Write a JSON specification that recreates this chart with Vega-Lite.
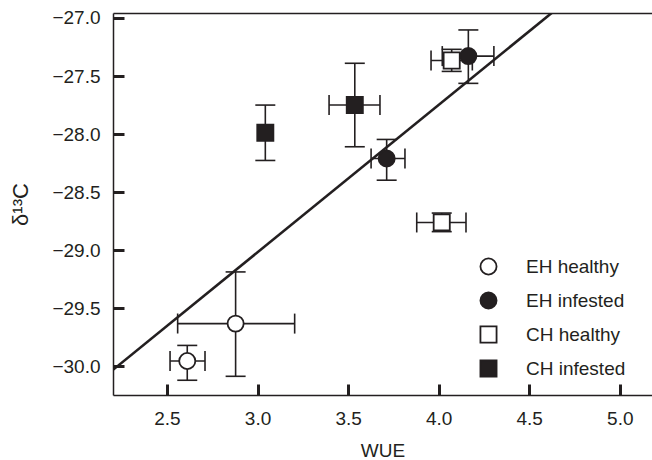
{
  "$schema": "https://vega.github.io/schema/vega-lite/v6.json",
  "autosize": "none",
  "width": 539,
  "height": 382,
  "padding": {"left": 113, "top": 13, "right": 0, "bottom": 65},
  "background": "white",
  "config": {
    "view": {"stroke": null},
    "font": "Liberation Sans",
    "axis": {
      "grid": false,
      "domainColor": "#231f20",
      "domainWidth": 1.5,
      "tickColor": "#231f20",
      "tickWidth": 3,
      "tickSize": -11,
      "tickCap": "butt",
      "labelColor": "#231f20",
      "labelFont": "Liberation Sans",
      "labelFontSize": 19,
      "titleColor": "#231f20",
      "titleFont": "Liberation Sans",
      "titleFontSize": 19,
      "titleFontWeight": "normal"
    },
    "legend": {
      "orient": "none",
      "legendX": 366,
      "legendY": 244,
      "padding": 0,
      "symbolSize": 260,
      "symbolStrokeWidth": 1.8,
      "labelFont": "Liberation Sans",
      "labelFontSize": 19,
      "labelColor": "#231f20",
      "labelOffset": 28,
      "rowPadding": 9
    }
  },
  "datasets": {
    "pts": [
      {"group": "CH healthy", "wue": 4.017, "d13c": -28.761, "xlo": 3.879, "xhi": 4.151, "ylo": -28.84, "yhi": -28.68},
      {"group": "CH healthy", "wue": 4.072, "d13c": -27.366, "xlo": 3.958, "xhi": 4.186, "ylo": -27.46, "yhi": -27.27},
      {"group": "CH infested", "wue": 3.043, "d13c": -27.989, "xlo": null, "xhi": null, "ylo": -28.227, "yhi": -27.75},
      {"group": "CH infested", "wue": 3.537, "d13c": -27.75, "xlo": 3.395, "xhi": 3.676, "ylo": -28.109, "yhi": -27.39},
      {"group": "EH healthy", "wue": 2.612, "d13c": -29.954, "xlo": 2.517, "xhi": 2.71, "ylo": -30.12, "yhi": -29.82},
      {"group": "EH healthy", "wue": 2.879, "d13c": -29.632, "xlo": 2.559, "xhi": 3.205, "ylo": -30.086, "yhi": -29.187},
      {"group": "EH infested", "wue": 3.713, "d13c": -28.21, "xlo": 3.627, "xhi": 3.814, "ylo": -28.397, "yhi": -28.046},
      {"group": "EH infested", "wue": 4.164, "d13c": -27.328, "xlo": 4.02, "xhi": 4.305, "ylo": -27.563, "yhi": -27.103}
    ],
    "fit": [
      {"wue": 2.202, "d13c": -30.03},
      {"wue": 4.624, "d13c": -26.957}
    ]
  },
  "resolve": {"axis": {"x": "independent"}},
  "layer": [
    {
      "data": {"name": "fit"},
      "mark": {"type": "line", "color": "#231f20", "strokeWidth": 2.6, "clip": true},
      "encoding": {
        "x": {
          "field": "wue", "type": "quantitative",
          "scale": {"domain": [2.202, 5.178], "nice": false, "zero": false},
          "axis": {"values": [2.5, 3, 3.5, 4, 4.5, 5], "format": ".1f", "labelPadding": 25, "title": "WUE", "titlePadding": 13}
        },
        "y": {
          "field": "d13c", "type": "quantitative",
          "scale": {"domain": [-30.247, -26.957], "nice": false, "zero": false},
          "axis": {"values": [-30, -29.5, -29, -28.5, -28, -27.5, -27], "format": ".1f", "labelPadding": 24, "title": "δ¹³C", "titleFontSize": 22, "titlePadding": 19}
        }
      }
    },
    {
      "data": {"name": "pts"},
      "mark": {"type": "rule", "color": "#231f20", "strokeWidth": 1.6},
      "encoding": {
        "x": {"field": "xlo", "type": "quantitative", "axis": {"orient": "top", "labels": false, "ticks": false, "title": null, "domain": true}},
        "x2": {"field": "xhi"},
        "y": {"field": "d13c", "type": "quantitative"}
      }
    },
    {
      "data": {"name": "pts"},
      "mark": {"type": "rule", "color": "#231f20", "strokeWidth": 1.6},
      "encoding": {
        "x": {"field": "wue", "type": "quantitative", "axis": null},
        "y": {"field": "ylo", "type": "quantitative"},
        "y2": {"field": "yhi"}
      }
    },
    {
      "data": {"name": "pts"},
      "mark": {"type": "tick", "orient": "vertical", "color": "#231f20", "size": 20, "thickness": 1.6, "opacity": 1},
      "encoding": {
        "x": {"field": "xlo", "type": "quantitative", "axis": null},
        "y": {"field": "d13c", "type": "quantitative"}
      }
    },
    {
      "data": {"name": "pts"},
      "mark": {"type": "tick", "orient": "vertical", "color": "#231f20", "size": 20, "thickness": 1.6, "opacity": 1},
      "encoding": {
        "x": {"field": "xhi", "type": "quantitative", "axis": null},
        "y": {"field": "d13c", "type": "quantitative"}
      }
    },
    {
      "data": {"name": "pts"},
      "mark": {"type": "tick", "orient": "horizontal", "color": "#231f20", "size": 20, "thickness": 1.6, "opacity": 1},
      "encoding": {
        "x": {"field": "wue", "type": "quantitative", "axis": null},
        "y": {"field": "ylo", "type": "quantitative"}
      }
    },
    {
      "data": {"name": "pts"},
      "mark": {"type": "tick", "orient": "horizontal", "color": "#231f20", "size": 20, "thickness": 1.6, "opacity": 1},
      "encoding": {
        "x": {"field": "wue", "type": "quantitative", "axis": null},
        "y": {"field": "yhi", "type": "quantitative"}
      }
    },
    {
      "data": {"name": "pts"},
      "mark": {"type": "point", "strokeWidth": 1.8, "size": 260, "opacity": 1, "fillOpacity": 1, "strokeOpacity": 1},
      "encoding": {
        "x": {"field": "wue", "type": "quantitative", "axis": null},
        "y": {"field": "d13c", "type": "quantitative"},
        "shape": {
          "field": "group", "type": "nominal",
          "scale": {"domain": ["EH healthy", "EH infested", "CH healthy", "CH infested"], "range": ["circle", "circle", "square", "square"]},
          "legend": {"title": null}
        },
        "fill": {
          "field": "group", "type": "nominal",
          "scale": {"domain": ["EH healthy", "EH infested", "CH healthy", "CH infested"], "range": ["#ffffff", "#231f20", "#ffffff", "#231f20"]},
          "legend": {"title": null}
        },
        "stroke": {
          "field": "group", "type": "nominal",
          "scale": {"domain": ["EH healthy", "EH infested", "CH healthy", "CH infested"], "range": ["#231f20", "#231f20", "#231f20", "#231f20"]},
          "legend": {"title": null}
        }
      }
    }
  ]
}
